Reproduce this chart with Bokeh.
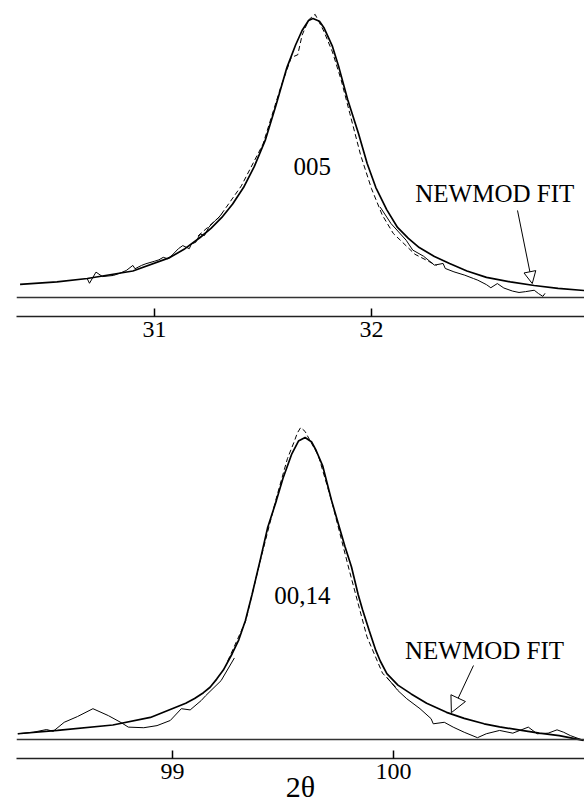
from bokeh.plotting import figure
from bokeh.layouts import column
from bokeh.models import Span, Label, Arrow, NormalHead, FixedTicker
from bokeh.embed import file_html
from bokeh.resources import INLINE

SERIF = "Liberation Serif"

# ---------------- top panel: 005 reflection ----------------
x_fit1 = [30.38, 30.55, 30.69, 30.90, 31.07, 31.14, 31.21, 31.26, 31.31, 31.36, 31.41, 31.46, 31.51, 31.56,
          31.61, 31.65, 31.68, 31.71, 31.73, 31.76, 31.78, 31.82, 31.85, 31.89, 31.94, 31.98, 32.02, 32.07,
          32.12, 32.17, 32.22, 32.29, 32.36, 32.44, 32.53, 32.64, 32.75, 32.86, 32.98]
y_fit1 = [4.7, 5.6, 6.8, 9.5, 14.3, 17.5, 21.5, 24.8, 28.7, 33.5, 39.4, 47.0, 56.3, 69.0,
          82.4, 90.5, 95.7, 99.3, 100.0, 99.0, 96.8, 90.0, 82.4, 71.0, 58.8, 48.0, 39.4, 31.5,
          25.1, 21.2, 17.9, 14.7, 12.2, 9.5, 7.2, 5.6, 4.3, 3.3, 2.5]

x_dash1 = [31.20, 31.30, 31.40, 31.50, 31.58, 31.63, 31.66, 31.68, 31.71, 31.74, 31.76, 31.78, 31.82,
           31.86, 31.90, 31.95, 32.00, 32.05, 32.10, 32.20, 32.30]
y_dash1 = [22.0, 29.0, 40.0, 55.0, 75.0, 86.0, 87.0, 94.0, 99.5, 101.5, 98.5, 95.5, 88.0,
           78.0, 66.0, 51.0, 39.0, 29.5, 23.0, 15.5, 11.5]

x_obs1_left = [30.69, 30.70, 30.73, 30.76, 30.81, 30.84, 30.87, 30.90, 30.91, 30.94, 30.96, 31.00, 31.02,
               31.04, 31.06, 31.08, 31.11, 31.13, 31.16, 31.17, 31.19, 31.21, 31.23, 31.25, 31.28, 31.29,
               31.31]
y_obs1_left = [6.7, 5.1, 9.1, 7.5, 7.9, 8.7, 9.7, 11.5, 10.3, 11.5, 12.1, 13.0, 13.5,
               14.4, 13.9, 15.1, 17.5, 18.6, 17.5, 19.2, 19.8, 22.8, 22.2, 25.2, 27.6, 28.2,
               30.0]
x_obs1_right = [32.04, 32.09, 32.16, 32.19, 32.24, 32.29, 32.33, 32.34, 32.38, 32.43, 32.47, 32.49,
                32.53, 32.55, 32.58, 32.61, 32.65, 32.68, 32.71, 32.75, 32.77, 32.79, 32.80]
y_obs1_right = [32.4, 26.5, 20.5, 17.0, 14.8, 11.6, 12.2, 10.4, 9.2, 8.0, 6.8, 6.2,
                4.6, 3.5, 5.0, 3.4, 2.3, 1.8, 2.1, 2.6, 1.4, 0.4, 1.5]
ticks1 = [31, 32]

# ---------------- bottom panel: 00,14 reflection ----------------
x_fit2 = [98.30, 98.48, 98.73, 98.90, 99.06, 99.10, 99.14, 99.17, 99.20, 99.23, 99.27, 99.30, 99.33,
          99.36, 99.40, 99.43, 99.47, 99.50, 99.54, 99.57, 99.60, 99.63, 99.65, 99.68, 99.72, 99.75,
          99.78, 99.81, 99.84, 99.86, 99.89, 99.92, 99.94, 99.97, 100.02, 100.08, 100.15, 100.24,
          100.32, 100.41, 100.48, 100.58, 100.66, 100.75, 100.86]
y_fit2 = [1.9, 3.0, 4.8, 7.3, 12.0, 13.6, 15.5, 17.3, 20.0, 23.0, 28.4, 33.0, 39.4,
          48.0, 60.4, 70.0, 79.1, 86.5, 94.6, 98.8, 100.0, 98.5, 95.7, 90.5, 79.1, 71.5,
          64.0, 57.1, 48.0, 43.0, 36.1, 29.5, 26.0, 21.8, 18.0, 15.1, 12.0, 9.0,
          7.0, 5.2, 4.2, 3.0, 2.1, 1.3, -0.3]

x_dash2 = [99.25, 99.33, 99.40, 99.47, 99.52, 99.55, 99.565, 99.58, 99.60, 99.62, 99.66, 99.72, 99.80,
           99.88, 99.95, 100.02]
y_dash2 = [26.0, 39.0, 60.0, 80.0, 93.0, 98.5, 101.5, 103.3, 102.0, 99.3, 94.0, 79.0, 56.0,
           34.0, 22.0, 16.5]

x_obs2_left = [98.30, 98.37, 98.43, 98.46, 98.51, 98.57, 98.64, 98.71, 98.77, 98.80, 98.87, 98.93,
               98.99, 99.04, 99.08, 99.13, 99.15, 99.22, 99.28]
y_obs2_left = [1.9, 2.4, 3.3, 2.7, 5.7, 7.6, 10.2, 7.9, 5.5, 4.1, 3.9, 4.6,
               6.3, 10.2, 9.8, 12.9, 14.5, 19.5, 27.0]
x_obs2_right = [99.97, 100.02, 100.06, 100.12, 100.17, 100.18, 100.23, 100.27, 100.32, 100.38, 100.42,
                100.48, 100.54, 100.61, 100.65, 100.70, 100.74, 100.77, 100.80, 100.86]
y_obs2_right = [20.6, 16.2, 13.5, 10.2, 6.9, 5.2, 5.7, 4.1, 2.4, 0.6, 1.9,
                3.0, 2.1, 4.1, 1.9, 2.1, 3.2, 2.4, 1.3, -0.3]
ticks2 = [99, 100]


def make_panel(width, height, xr, yr, ticks, border_left, border_bottom):
    p = figure(width=width, height=height, x_range=xr, y_range=yr,
               output_backend="svg", toolbar_location=None,
               y_axis_location=None, min_border_left=border_left, min_border_right=0,
               min_border_top=0, min_border_bottom=border_bottom)
    p.outline_line_color = None
    p.xgrid.visible = False
    p.ygrid.visible = False
    ax = p.xaxis[0]
    ax.ticker = FixedTicker(ticks=ticks)
    ax.major_tick_in = 8
    ax.major_tick_out = 0
    ax.minor_tick_line_color = None
    ax.axis_line_width = 1.5
    ax.axis_line_color = "#222222"
    ax.major_tick_line_width = 1.5
    ax.major_label_standoff = 5
    ax.major_label_text_font = SERIF
    ax.major_label_text_font_size = "24px"
    ax.major_label_text_color = "black"
    p.add_layout(Span(location=0, dimension="width", line_color="#333333", line_width=1.5))
    return p


# top
p1 = make_panel(584, 400, (30.3636, 32.9818), (-6.81, 106.45), ticks1, 8, 84)
p1.line(x_fit1, y_fit1, line_color="black", line_width=1.7)
p1.line(x_dash1, y_dash1, line_color="black", line_width=1, line_dash="5 3")
p1.line(x_obs1_left, y_obs1_left, line_color="black", line_width=1)
p1.line(x_obs1_right, y_obs1_right, line_color="black", line_width=1)
p1.add_layout(Label(x=31.727, y=47.0, text="005", text_align="center", text_baseline="middle",
                    text_font=SERIF, text_font_size="25px", text_color="black"))
p1.add_layout(Label(x=32.568, y=37.3, text="NEWMOD FIT", text_align="center", text_baseline="middle",
                    text_font=SERIF, text_font_size="25px", text_color="black"))
p1.add_layout(Arrow(end=NormalHead(size=12, fill_color="white", line_color="black", line_width=1),
                    x_start=32.673, y_start=31.2, x_end=32.741, y_end=5.0,
                    line_color="black", line_width=1))

# bottom
p2 = make_panel(584, 407, (98.2941, 100.8643), (-6.29, 112.25), ticks2, 16, 49)
p2.line(x_fit2, y_fit2, line_color="black", line_width=1.7)
p2.line(x_dash2, y_dash2, line_color="black", line_width=1, line_dash="5 3")
p2.line(x_obs2_left, y_obs2_left, line_color="black", line_width=1)
p2.line(x_obs2_right, y_obs2_right, line_color="black", line_width=1)
p2.add_layout(Label(x=99.588, y=47.7, text="00,14", text_align="center", text_baseline="middle",
                    text_font=SERIF, text_font_size="25px", text_color="black"))
p2.add_layout(Label(x=100.412, y=29.5, text="NEWMOD FIT", text_align="center", text_baseline="middle",
                    text_font=SERIF, text_font_size="25px", text_color="black"))
p2.add_layout(Arrow(end=NormalHead(size=16, fill_color="white", line_color="black", line_width=1),
                    x_start=100.362, y_start=24.5, x_end=100.262, y_end=8.9,
                    line_color="black", line_width=1))
ax2 = p2.xaxis[0]
ax2.axis_label = "2θ"
ax2.axis_label_text_font = SERIF
ax2.axis_label_text_font_style = "normal"
ax2.axis_label_text_font_size = "30px"
ax2.axis_label_text_color = "black"
ax2.axis_label_standoff = -12

layout = column(p1, p2, spacing=0)
open("out.html", "w").write(file_html(layout, INLINE))
